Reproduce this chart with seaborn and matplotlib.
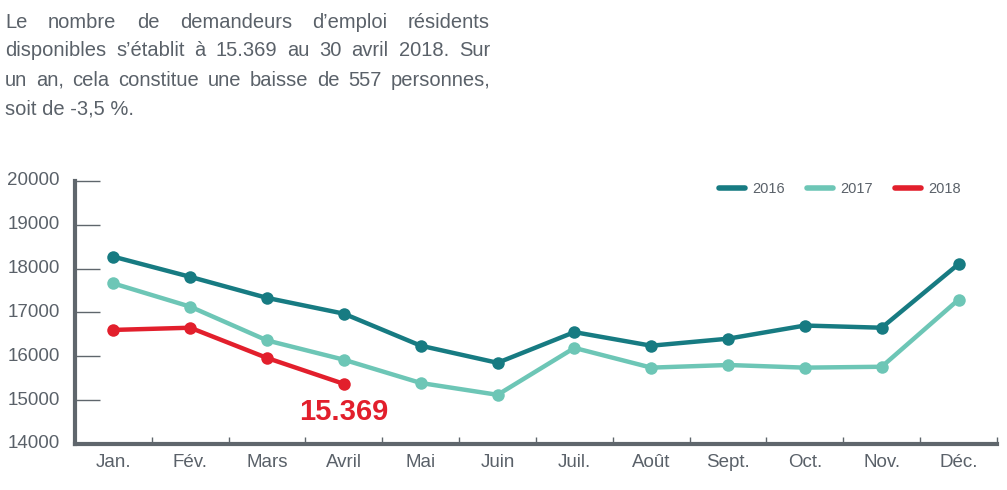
import matplotlib
matplotlib.use("Agg")
import matplotlib.pyplot as plt
from matplotlib.lines import Line2D
from matplotlib.ticker import FixedLocator
import pandas as pd
import seaborn as sns

months = ['Jan.', 'Fév.', 'Mars', 'Avril', 'Mai', 'Juin', 'Juil.', 'Août',
          'Sept.', 'Oct.', 'Nov.', 'Déc.']
v2016 = [18270, 17810, 17330, 16970, 16240, 15850, 16550, 16240, 16400, 16700, 16650, 18100]
v2017 = [17660, 17130, 16360, 15920, 15390, 15120, 16190, 15740, 15800, 15740, 15760, 17290]
v2018 = [16600, 16650, 15960, 15369]
years = ['2016', '2017', '2018']
colors = {'2016': '#177b82', '2017': '#6dc6b6', '2018': '#e21f2c'}

intro = ["Le nombre de demandeurs d\u2019emploi résidents",
         "disponibles s\u2019établit à 15.369 au 30 avril 2018. Sur",
         "un an, cela constitue une baisse de 557 personnes,",
         "soit de -3,5 %."]

rows = []
for yr, vals in zip(years, [v2016, v2017, v2018]):
    for m, v in zip(months, vals):
        rows.append({'mois': m, 'valeur': v, 'annee': yr})
df = pd.DataFrame(rows)

sns.set_style('white')
plt.rcParams['font.family'] = ['Liberation Sans Narrow', 'Liberation Sans', 'DejaVu Sans']
grey = '#5a6169'
axis_grey = '#5f666c'

fig = plt.figure(figsize=(10.07, 4.9), dpi=100)
ax = fig.add_axes([0.0745, 0.094, 0.9155, 0.537])

sns.lineplot(data=df, x='mois', y='valeur', hue='annee', palette=colors,
             marker='o', markersize=9, markeredgewidth=0, linewidth=3.2,
             sort=False, legend=False, ax=ax)

ax.set_xlim(-0.5, len(months) - 0.5)
ax.set_ylim(14000, 20000)
ax.set_yticks(range(14000, 20001, 1000))
ax.set_xlabel('')
ax.set_ylabel('')
ax.set_xticks(range(len(months)))
ax.set_xticklabels(months)
ax.xaxis.set_minor_locator(FixedLocator([i + 0.5 for i in range(len(months))]))

for s in ['top', 'right']:
    ax.spines[s].set_visible(False)
for s in ['left', 'bottom']:
    ax.spines[s].set_color(axis_grey)
    ax.spines[s].set_linewidth(3)
    ax.spines[s].set_zorder(5)

ax.tick_params(axis='y', which='major', left=True, direction='in', length=18, width=1,
               color=axis_grey, labelsize=13.5, labelcolor=grey, pad=11)
ax.tick_params(axis='x', which='major', bottom=False, length=0, labelsize=13.5,
               labelcolor=grey, pad=7)
ax.tick_params(axis='x', which='minor', bottom=True, direction='in', length=5, width=1,
               color=axis_grey)
for lab in ax.get_yticklabels():
    lab.set_va('center')

ax.annotate('15.369', xy=(3, 15369), xytext=(0, -20), textcoords='offset points',
            ha='center', va='center', fontsize=21, fontweight='bold',
            color=colors['2018'])

handles = [Line2D([0], [0], color=colors[y], lw=4) for y in years]
ax.legend(handles, years, loc='upper right', bbox_to_anchor=(0.975, 1.045), ncol=3,
          frameon=False, handlelength=1.8, handletextpad=0.5, columnspacing=1.5,
          labelcolor=grey, prop={'size': 10.5})

# paragraph, justified line by line
fig.canvas.draw()
r = fig.canvas.get_renderer()
left_px, right_px = 5, 490
W, H = fig.bbox.width, fig.bbox.height
for i, line in enumerate(intro):
    y = 1 - (22 + i * 29) / H
    words = line.split(' ')
    if i == len(intro) - 1:
        fig.text(left_px / W, y, line, fontsize=14.5, color=grey, va='center',
                 family=['Liberation Sans', 'DejaVu Sans'])
        continue
    ts = [fig.text(0, y, w, fontsize=14.5, color=grey, va='center',
                   family=['Liberation Sans', 'DejaVu Sans']) for w in words]
    widths = [t.get_window_extent(r).width for t in ts]
    gap = (right_px - left_px - sum(widths)) / (len(words) - 1)
    x = left_px
    for t, w in zip(ts, widths):
        t.set_x(x / W)
        x += w + gap

fig.savefig('out.png', dpi=100)
